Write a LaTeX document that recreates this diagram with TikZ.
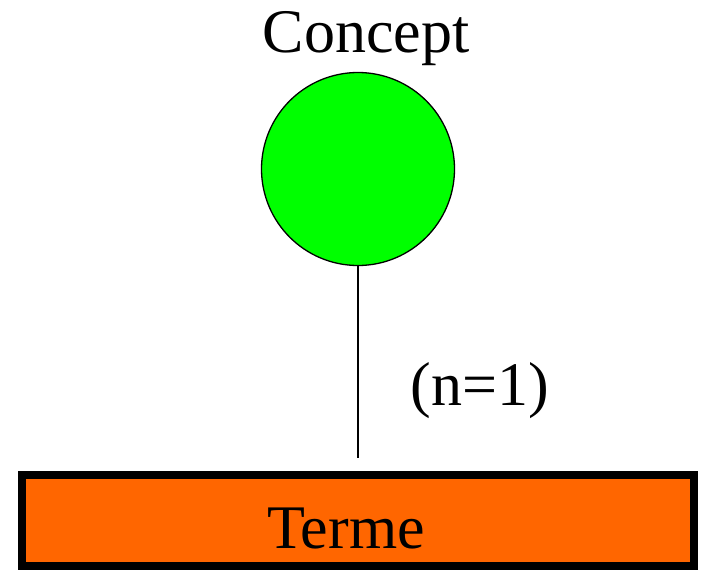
\documentclass[tikz,border=0pt]{standalone}
\usepackage{fontspec}
\setmainfont{Liberation Serif}
\usepackage{xcolor}
\definecolor{conceptgreen}{HTML}{00FF00}
\definecolor{termeorange}{HTML}{FF6600}
\usetikzlibrary{positioning}

\begin{document}
\begin{tikzpicture}[x=1pt,y=-1pt,font=\fontsize{62}{70}\selectfont]
\useasboundingbox (0,0) rectangle (701,571);
% concept circle and its name
\node[circle,draw,fill=conceptgreen,line width=1.3pt,minimum size=193pt,inner sep=0pt] (concept) at (358,169) {};
\node[anchor=base] (conceptname) at (366,52) {Concept};
% term box
\node[draw,fill=termeorange,line width=8pt,minimum width=672pt,minimum height=91pt,inner sep=0pt] (terme) at (358,520.5) {};
\node[anchor=base] (termename) at (346,548) {Terme};
% link with cardinality
\draw[line width=1.3pt,shorten >=13pt] (concept.south) -- (concept.south |- terme.north);
\node[anchor=base] (card) at (480,405) {(n=1)};
\end{tikzpicture}
\end{document}
